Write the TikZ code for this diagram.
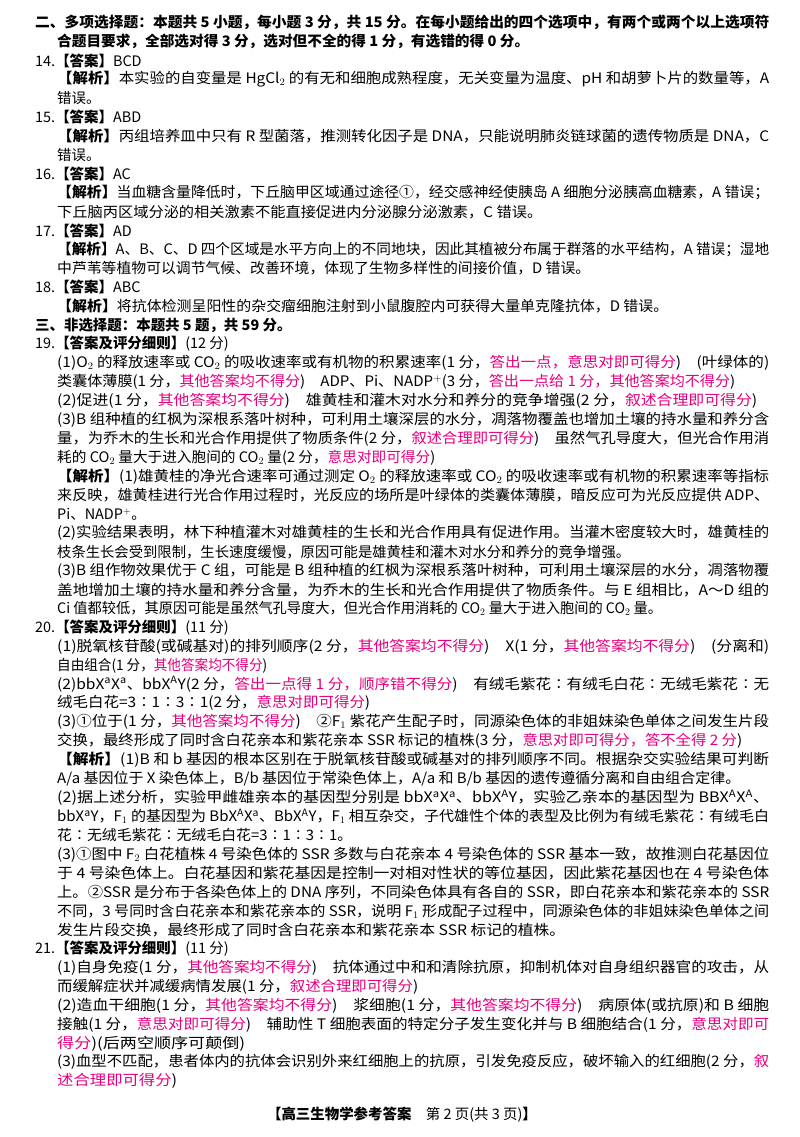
\documentclass[tikz,border=0pt]{standalone}
\usepackage{fontspec}
\usepackage{graphicx}
\setmainfont{Noto Sans CJK SC}
\definecolor{pk}{RGB}{228,0,127}
\newcommand\pkt[1]{\textcolor{pk}{#1}}
\newcommand\myjx{\textbf{【解析】}}
\newcommand\myda{\textbf{【答案】}}
\newcommand\mydp{\textbf{【答案及评分细则】}}
\tikzset{ln/.style={anchor=west,inner sep=0pt,font=\fontsize{14.5}{16}\selectfont}}
\newcommand\Lp[3]{\node[ln] (l#1) at (#2,{22.7+(#1-1)*18.9}) {#3};}
\newcommand\Fp[3]{\node[ln] (l#1) at (#2,{22.7+(#1-1)*18.9}) {\resizebox{\dimexpr(769bp-#2bp)\relax}{\height}{#3}};}
\newcommand\Wp[4]{\node[ln] (l#1) at (#2,{22.7+(#1-1)*18.9}) {\resizebox{\dimexpr(#3bp-#2bp)\relax}{\height}{#4}};}
\begin{document}
\begin{tikzpicture}[x=1bp,y=-1bp]
\useasboundingbox (0,0) rectangle (800,1137);
\fill[white] (0,0) rectangle (800,1137);
\Fp{1}{35}{\textbf{二、多项选择题：本题共 5 小题，每小题 3 分，共 15 分。在每小题给出的四个选项中，有两个或两个以上选项符}}
\Wp{2}{57}{529}{\textbf{合题目要求，全部选对得 3 分，选对但不全的得 1 分，有选错的得 0 分。}}
\Lp{3}{35}{14.\myda BCD}
\Fp{4}{57}{\myjx 本实验的自变量是 HgCl$_2$ 的有无和细胞成熟程度，无关变量为温度、pH 和胡萝卜片的数量等，A}
\Lp{5}{57}{错误。}
\Lp{6}{35}{15.\myda ABD}
\Fp{7}{57}{\myjx 丙组培养皿中只有 R 型菌落，推测转化因子是 DNA，只能说明肺炎链球菌的遗传物质是 DNA，C}
\Lp{8}{57}{错误。}
\Lp{9}{35}{16.\myda AC}
\Fp{10}{57}{\myjx 当血糖含量降低时，下丘脑甲区域通过途径①，经交感神经使胰岛 A 细胞分泌胰高血糖素，A 错误；}
\Wp{11}{57}{542}{下丘脑丙区域分泌的相关激素不能直接促进内分泌腺分泌激素，C 错误。}
\Lp{12}{35}{17.\myda AD}
\Fp{13}{57}{\myjx A、B、C、D 四个区域是水平方向上的不同地块，因此其植被分布属于群落的水平结构，A 错误；湿地}
\Wp{14}{57}{590}{中芦苇等植物可以调节气候、改善环境，体现了生物多样性的间接价值，D 错误。}
\Lp{15}{35}{18.\myda ABC}
\Wp{16}{57}{668}{\myjx 将抗体检测呈阳性的杂交瘤细胞注射到小鼠腹腔内可获得大量单克隆抗体，D 错误。}
\Lp{17}{35}{\textbf{三、非选择题：本题共 5 题，共 59 分。}}
\Lp{18}{35}{19.\mydp(12 分)}
\Fp{19}{57}{(1)O$_2$ 的释放速率或 CO$_2$ 的吸收速率或有机物的积累速率(1 分，\pkt{答出一点，意思对即可得分})\quad (叶绿体的)}
\Wp{20}{57}{735}{类囊体薄膜(1 分，\pkt{其他答案均不得分})\quad ADP、Pi、NADP$^+$(3 分，\pkt{答出一点给 1 分，其他答案均不得分})}
\Wp{21}{57}{757}{(2)促进(1 分，\pkt{其他答案均不得分})\quad 雄黄桂和灌木对水分和养分的竞争增强(2 分，\pkt{叙述合理即可得分})}
\Fp{22}{57}{(3)B 组种植的红枫为深根系落叶树种，可利用土壤深层的水分，凋落物覆盖也增加土壤的持水量和养分含}
\Fp{23}{57}{量，为乔木的生长和光合作用提供了物质条件(2 分，\pkt{叙述合理即可得分})\quad 虽然气孔导度大，但光合作用消}
\Wp{24}{57}{435}{耗的 CO$_2$ 量大于进入胞间的 CO$_2$ 量(2 分，\pkt{意思对即可得分})}
\Fp{25}{57}{\myjx(1)雄黄桂的净光合速率可通过测定 O$_2$ 的释放速率或 CO$_2$ 的吸收速率或有机物的积累速率等指标}
\Fp{26}{57}{来反映，雄黄桂进行光合作用过程时，光反应的场所是叶绿体的类囊体薄膜，暗反应可为光反应提供 ADP、}
\Lp{27}{57}{Pi、NADP$^+$。}
\Fp{28}{57}{(2)实验结果表明，林下种植灌木对雄黄桂的生长和光合作用具有促进作用。当灌木密度较大时，雄黄桂的}
\Wp{29}{57}{630}{枝条生长会受到限制，生长速度缓慢，原因可能是雄黄桂和灌木对水分和养分的竞争增强。}
\Fp{30}{57}{(3)B 组作物效果优于 C 组，可能是 B 组种植的红枫为深根系落叶树种，可利用土壤深层的水分，凋落物覆}
\Fp{31}{57}{盖地增加土壤的持水量和养分含量，为乔木的生长和光合作用提供了物质条件。与 E 组相比，A～D 组的}
\Wp{32}{57}{662}{\textit{Ci} 值都较低，其原因可能是虽然气孔导度大，但光合作用消耗的 CO$_2$ 量大于进入胞间的 CO$_2$ 量。}
\Lp{33}{35}{20.\mydp(11 分)}
\Fp{34}{57}{(1)脱氧核苷酸(或碱基对)的排列顺序(2 分，\pkt{其他答案均不得分})\quad X(1 分，\pkt{其他答案均不得分})\quad (分离和)}
\Wp{35}{57}{267}{自由组合(1 分，\pkt{其他答案均不得分})}
\Fp{36}{57}{(2)bbX$^{\mathrm a}$X$^{\mathrm a}$、bbX$^{\mathrm A}$Y(2 分，\pkt{答出一点得 1 分，顺序错不得分})\quad 有绒毛紫花∶有绒毛白花∶无绒毛紫花∶无}
\Wp{37}{57}{370}{绒毛白花=3∶1∶3∶1(2 分，\pkt{意思对即可得分})}
\Fp{38}{57}{(3)①位于(1 分，\pkt{其他答案均不得分})\quad ②F$_1$ 紫花产生配子时，同源染色体的非姐妹染色单体之间发生片段}
\Wp{39}{57}{742}{交换，最终形成了同时含白花亲本和紫花亲本 SSR 标记的植株(3 分，\pkt{意思对即可得分，答不全得 2 分})}
\Fp{40}{57}{\myjx(1)B 和 b 基因的根本区别在于脱氧核苷酸或碱基对的排列顺序不同。根据杂交实验结果可判断}
\Wp{41}{57}{740}{A/a 基因位于 X 染色体上，B/b 基因位于常染色体上，A/a 和 B/b 基因的遗传遵循分离和自由组合定律。}
\Fp{42}{57}{(2)据上述分析，实验甲雌雄亲本的基因型分别是 bbX$^{\mathrm a}$X$^{\mathrm a}$、bbX$^{\mathrm A}$Y，实验乙亲本的基因型为 BBX$^{\mathrm A}$X$^{\mathrm A}$、}
\Fp{43}{57}{bbX$^{\mathrm a}$Y，F$_1$ 的基因型为 BbX$^{\mathrm A}$X$^{\mathrm a}$、BbX$^{\mathrm A}$Y，F$_1$ 相互杂交，子代雄性个体的表型及比例为有绒毛紫花∶有绒毛白}
\Wp{44}{57}{352}{花∶无绒毛紫花∶无绒毛白花=3∶1∶3∶1。}
\Fp{45}{57}{(3)①图中 F$_2$ 白花植株 4 号染色体的 SSR 多数与白花亲本 4 号染色体的 SSR 基本一致，故推测白花基因位}
\Fp{46}{57}{于 4 号染色体上。白花基因和紫花基因是控制一对相对性状的等位基因，因此紫花基因也在 4 号染色体}
\Fp{47}{57}{上。②SSR 是分布于各染色体上的 DNA 序列，不同染色体具有各自的 SSR，即白花亲本和紫花亲本的 SSR}
\Fp{48}{57}{不同，3 号同时含白花亲本和紫花亲本的 SSR，说明 F$_1$ 形成配子过程中，同源染色体的非姐妹染色单体之间}
\Wp{49}{57}{565}{发生片段交换，最终形成了同时含白花亲本和紫花亲本 SSR 标记的植株。}
\Lp{50}{35}{21.\mydp(11 分)}
\Fp{51}{57}{(1)自身免疫(1 分，\pkt{其他答案均不得分})\quad 抗体通过中和和清除抗原，抑制机体对自身组织器官的攻击，从}
\Wp{52}{57}{418}{而缓解症状并减缓病情发展(1 分，\pkt{叙述合理即可得分})}
\Fp{53}{57}{(2)造血干细胞(1 分，\pkt{其他答案均不得分})\quad 浆细胞(1 分，\pkt{其他答案均不得分})\quad 病原体(或抗原)和 B 细胞}
\Fp{54}{57}{接触(1 分，\pkt{意思对即可得分})\quad 辅助性 T 细胞表面的特定分子发生变化并与 B 细胞结合(1 分，\pkt{意思对即可}}
\Wp{55}{57}{245}{\pkt{得分})(后两空顺序可颠倒)}
\Fp{56}{57}{(3)血型不匹配，患者体内的抗体会识别外来红细胞上的抗原，引发免疫反应，破坏输入的红细胞(2 分，\pkt{叙}}
\Wp{57}{57}{177}{\pkt{述合理即可得分})}
\node[ln,anchor=center] (foot) at (402,1115) {\textbf{【高三生物学参考答案}\quad 第 2 页(共 3 页)\textbf{】}};
\end{tikzpicture}
\end{document}
